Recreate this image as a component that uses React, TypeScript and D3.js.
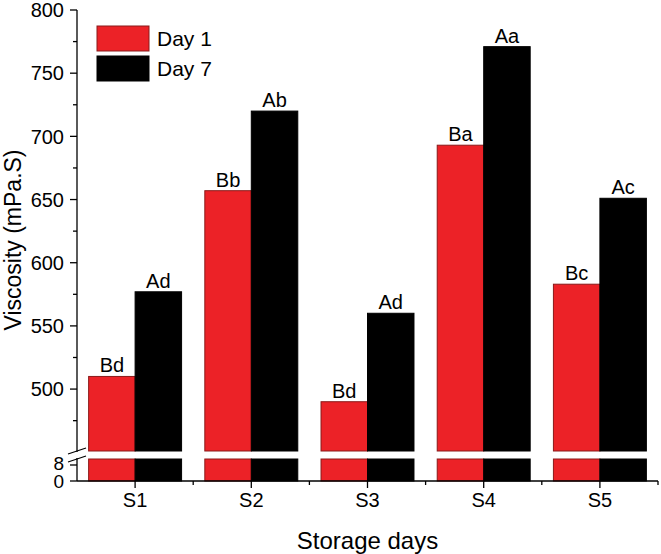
import React from "react";
import * as d3 from "d3";

const categories = ["S1", "S2", "S3", "S4", "S5"];
const seriesNames = ["Day 1", "Day 7"];
const day1 = [510, 657, 490, 693, 583];
const day7 = [577, 720, 560, 771, 651];
const day1Labels = ["Bd", "Bb", "Bd", "Ba", "Bc"];
const day7Labels = ["Ad", "Ab", "Ad", "Aa", "Ac"];
const upperTicks = [500, 550, 600, 650, 700, 750, 800];
const upperMinor = [475, 525, 575, 625, 675, 725, 775];
const lowerTicks = [0, 8];
const colors = ["#ec2227", "#000000"];
const strokes = ["#8a1a1a", "#000000"];

const W = 661;
const H = 554;
const X0 = 77;
const X1 = 658;
const FONT = "'Liberation Sans', Arial, Helvetica, sans-serif";

export default function App() {
  const x = d3.scaleBand<string>().domain(categories).range([X0, X1]).padding(0);
  const step = x.step();
  const groupW = step * 0.8;
  const xs = d3.scaleBand<string>().domain(seriesNames).range([-groupW / 2, groupW / 2]).padding(0);
  const yU = d3.scaleLinear().domain([451, 800]).range([451, 10]);
  const yL = d3.scaleLinear().domain([0, 11]).range([481, 459]);
  const breakTopY = yU(451);
  const breakBotY = yL(11);
  const series = [day1, day7];
  const labels = [day1Labels, day7Labels];

  const minorX: number[] = [];
  for (let i = 1; i <= categories.length; i++) minorX.push(X0 + i * step);

  return (
    <svg width={W} height={H} style={{ position: "absolute", left: 0, top: 0, background: "#fff" }} fontFamily={FONT}>
      {/* bars */}
      {categories.map((c, ci) => {
        const cx = (x(c) as number) + step / 2;
        return series.map((vals, si) => {
          const bx = cx + (xs(seriesNames[si]) as number);
          const bw = xs.bandwidth();
          const v = vals[ci];
          const top = yU(v);
          return (
            <g key={c + si}>
              <rect x={bx} y={top} width={bw} height={breakTopY - top} fill={colors[si]} stroke={strokes[si]} strokeWidth={1} />
              <rect x={bx} y={breakBotY} width={bw} height={yL(0) - breakBotY} fill={colors[si]} stroke={strokes[si]} strokeWidth={1} />
              <text x={bx + bw / 2} y={top - 4} textAnchor="middle" fontSize={20} fill="#000">
                {labels[si][ci]}
              </text>
            </g>
          );
        });
      })}
      {/* y axis */}
      <line x1={X0} x2={X0} y1={yU(800)} y2={breakTopY + 1} stroke="#000" strokeWidth={1.3} />
      <line x1={X0} x2={X0} y1={breakBotY - 1} y2={yL(0)} stroke="#000" strokeWidth={1.3} />
      {upperTicks.map((t) => (
        <g key={"u" + t}>
          <line x1={X0 - 7} x2={X0} y1={yU(t)} y2={yU(t)} stroke="#000" strokeWidth={1.3} />
          <text x={X0 - 13} y={yU(t)} dy="0.36em" textAnchor="end" fontSize={20} fill="#000">
            {t}
          </text>
        </g>
      ))}
      {upperMinor.map((t) => (
        <line key={"m" + t} x1={X0 - 4} x2={X0} y1={yU(t)} y2={yU(t)} stroke="#000" strokeWidth={1.3} />
      ))}
      {lowerTicks.map((t) => (
        <g key={"l" + t}>
          <line x1={X0 - 7} x2={X0} y1={yL(t)} y2={yL(t)} stroke="#000" strokeWidth={1.3} />
          <text x={X0 - 13} y={yL(t) + (t === 0 ? 0 : -2)} dy="0.36em" textAnchor="end" fontSize={19} fill="#000">
            {t}
          </text>
        </g>
      ))}
      {/* break marks */}
      <line x1={X0 - 9} x2={X0 + 9} y1={breakTopY + 3} y2={breakTopY - 3} stroke="#000" strokeWidth={1.3} />
      <line x1={X0 - 9} x2={X0 + 9} y1={breakBotY + 3} y2={breakBotY - 3} stroke="#000" strokeWidth={1.3} />
      {/* x axis */}
      <line x1={X0} x2={X1} y1={yL(0)} y2={yL(0)} stroke="#000" strokeWidth={1.3} />
      {categories.map((c) => {
        const cx = (x(c) as number) + step / 2;
        return (
          <g key={"x" + c}>
            <line x1={cx} x2={cx} y1={yL(0)} y2={yL(0) + 7} stroke="#000" strokeWidth={1.3} />
            <text x={cx} y={yL(0) + 26} textAnchor="middle" fontSize={20} fill="#000">
              {c}
            </text>
          </g>
        );
      })}
      {minorX.map((mx, i) => (
        <line key={"mx" + i} x1={mx} x2={mx} y1={yL(0)} y2={yL(0) + 4} stroke="#000" strokeWidth={1.3} />
      ))}
      {/* axis titles */}
      <text x={(X0 + X1) / 2} y={549} textAnchor="middle" fontSize={24} fill="#000">
        Storage days
      </text>
      <text transform={`translate(21,${240}) rotate(-90)`} textAnchor="middle" fontSize={23} fill="#000">
        Viscosity (mPa.S)
      </text>
      {/* legend */}
      {seriesNames.map((s, i) => (
        <g key={"lg" + s}>
          <rect x={97} y={26 + i * 30} width={52} height={25} fill={colors[i]} stroke={strokes[i]} strokeWidth={1} />
          <text x={157} y={26 + i * 30 + 12.5} dy="0.36em" fontSize={21} fill="#000">
            {s}
          </text>
        </g>
      ))}
    </svg>
  );
}
